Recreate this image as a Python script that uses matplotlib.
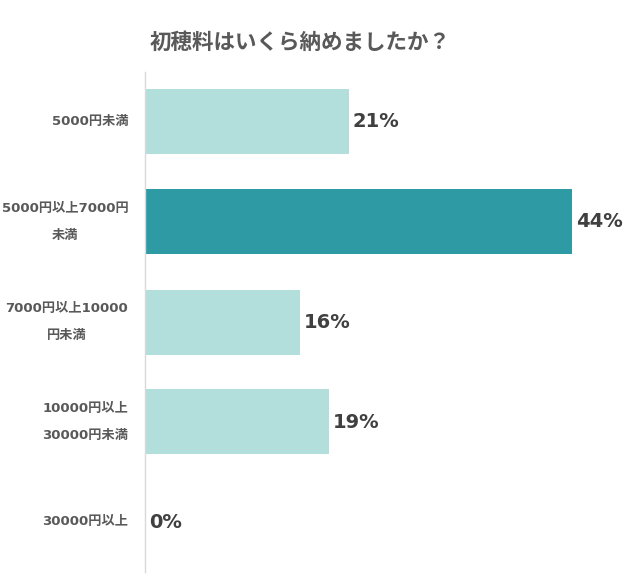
import matplotlib
matplotlib.use("Agg")
import matplotlib.pyplot as plt

plt.rcParams['font.family'] = ['DejaVu Sans', 'Noto Sans CJK JP']

# Data
categories = ["5000円未満", "5000円以上7000円\n未満", "7000円以上10000\n円未満",
              "10000円以上\n30000円未満", "30000円以上"]
values = [21, 44, 16, 19, 0]
highlight = 1

light = "#b2dfdb"
dark = "#2e9aa3"
colors = [dark if i == highlight else light for i in range(len(values))]

fig = plt.figure(figsize=(6.4, 5.77), dpi=100)
W, H = 640, 577
ax = fig.add_axes([145 / W, 5 / H, (601 - 145) / W, (572 - 72) / H])

y = list(range(len(values)))
ax.barh(y, values, height=0.65, color=colors)
ax.set_ylim(len(values) - 0.5, -0.5)
ax.set_xlim(0, 47)

for yi, v in zip(y, values):
    ax.text(v + 0.4, yi, f"{v}%", va="center", ha="left",
            fontsize=14, fontweight="bold", color="#404040")

ax.set_yticks(y)
ax.set_yticklabels(categories, fontsize=9.5, fontweight="bold", color="#595959",
                   linespacing=2.4, multialignment="center", va="center")
ax.tick_params(axis="y", length=0, pad=12)
ax.set_xticks([])
for s in ["top", "right", "bottom"]:
    ax.spines[s].set_visible(False)
ax.spines["left"].set_color("#d9d9d9")
ax.spines["left"].set_linewidth(1)

fig.text(300 / W, 1 - 42 / H, "初穂料はいくら納めましたか？", ha="center", va="center",
         fontsize=15.5, fontweight="bold", color="#595959",
         family=['Noto Sans CJK JP', 'DejaVu Sans'])

fig.savefig("out.png", dpi=100, facecolor="white")
